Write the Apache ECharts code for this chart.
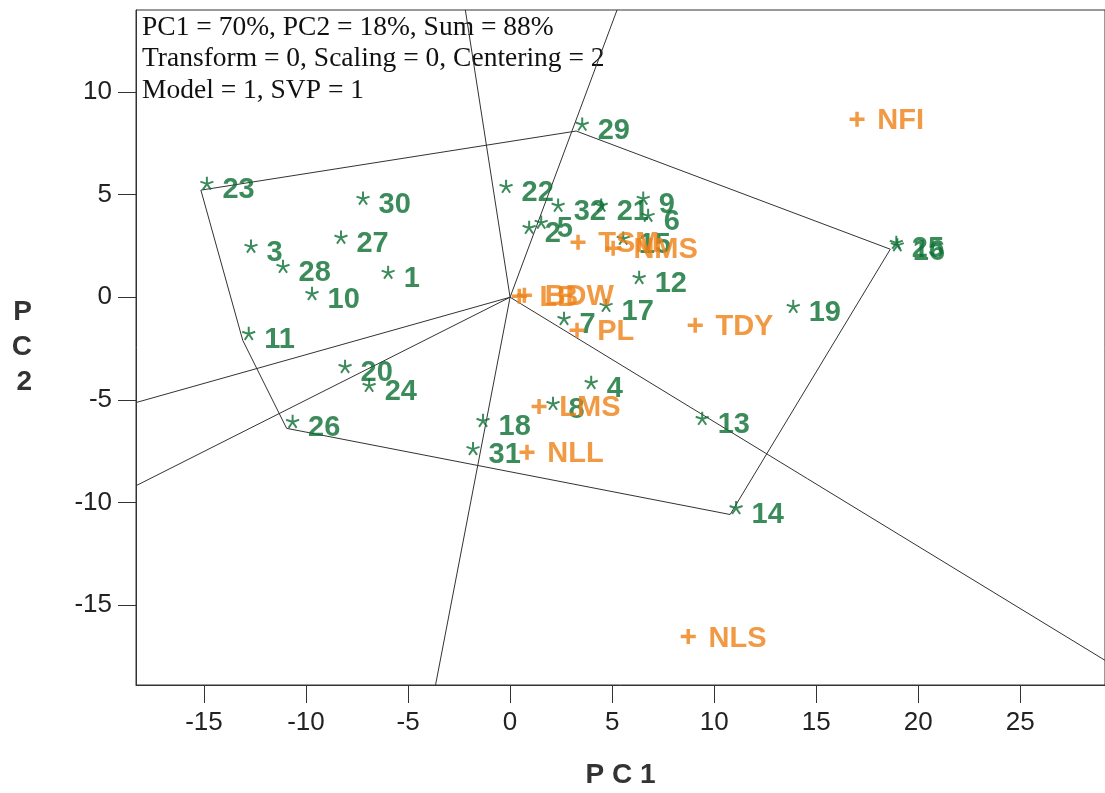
<!DOCTYPE html>
<html>
<head>
<meta charset="utf-8">
<script src="https://cdn.jsdelivr.net/npm/echarts@6/dist/echarts.min.js"></script>
<style>
  html, body { margin: 0; padding: 0; background: #fff; }
  #biplot { width: 1105px; height: 793px; }
</style>
</head>
<body>
<div id="biplot"></div>
<script>
// genotype scores (PC1, PC2)
var genoNames = ['23', '29', '25', '16', '14', '26', '11', '30', '3', '27', '28', '1', '10', '20', '24',
  '22', '32', '5', '2', '21', '9', '6', '15', '12', '17', '7', '19', '13', '4', '8', '18', '31'];
var genoPC1 = [-15.15, 3.24, 18.63, 18.68, 10.78, -10.95, -13.1, -7.5, -12.99, -8.58, -11.42, -6.27, -10.0, -8.38, -7.2,
  -0.49, 2.06, 1.23, 0.64, 4.17, 6.23, 6.47, 5.25, 6.03, 4.41, 2.35, 13.58, 9.12, 3.68, 1.81, -1.62, -2.11];
var genoPC2 = [5.22, 8.1, 2.34, 2.22, -10.59, -6.39, -2.1, 4.49, 2.15, 2.59, 1.17, 0.88, -0.15, -3.71, -4.63,
  5.07, 4.15, 3.32, 3.07, 4.15, 4.49, 3.66, 2.54, 0.63, -0.73, -1.37, -0.78, -6.24, -4.49, -5.51, -6.34, -7.71];

// environment scores
var envNames = ['NFI', 'TSM', 'NMS', 'LB', 'BDW', 'PL', 'TDY', 'LMS', 'NLL', 'NLS'];
var envPC1 = [17.0, 3.33, 5.05, 0.45, 0.7, 3.28, 9.07, 1.42, 0.83, 8.73];
var envPC2 = [8.68, 2.68, 2.39, 0.05, 0.1, -1.61, -1.37, -5.32, -7.56, -16.54];

// convex hull (which-won-where polygon)
var hullOrder = ['23', '29', '25', '14', '26', '11'];

var xTicks = [-15, -10, -5, 0, 5, 10, 15, 20, 25];
var yTicks = [-15, -10, -5, 0, 5, 10];
var xMin = -18.33, xMax = 29.15, yMin = -18.9, yMax = 14.0;

var green = '#0b6e32';
var orange = '#ee7f14';
var lineCol = '#333';

var genoData = genoNames.map(function (n, i) { return { name: n, value: [genoPC1[i], genoPC2[i]] }; });
var envData = envNames.map(function (n, i) { return { name: n, value: [envPC1[i], envPC2[i]] }; });

var hull = hullOrder.map(function (n) {
  var i = genoNames.indexOf(n);
  return [genoPC1[i], genoPC2[i]];
});
var hullLoop = hull.concat([hull[0]]);

// rays from origin, perpendicular to each polygon side, out to the frame
function rayEnd(nx, ny) {
  var t = Infinity;
  if (nx > 0) t = Math.min(t, xMax / nx);
  if (nx < 0) t = Math.min(t, xMin / nx);
  if (ny > 0) t = Math.min(t, yMax / ny);
  if (ny < 0) t = Math.min(t, yMin / ny);
  return [nx * t, ny * t];
}
var raySeries = [];
for (var k = 0; k < hull.length; k++) {
  var a = hull[k], b = hull[(k + 1) % hull.length];
  var nx = -(b[1] - a[1]), ny = b[0] - a[0];
  if (nx * a[0] + ny * a[1] < 0) { nx = -nx; ny = -ny; }
  raySeries.push({
    type: 'line', silent: true, symbol: 'none', animation: false,
    data: [[0, 0], rayEnd(nx, ny)],
    lineStyle: { color: lineCol, width: 1 }
  });
}

var asterisk = 'path://M0,0L0,-1M0,0L0.951,-0.309M0,0L0.588,0.809M0,0L-0.588,0.809M0,0L-0.951,-0.309';
var plus = 'path://M-1,0L1,0M0,-1L0,1';

var dom = document.getElementById('biplot');
var myChart = echarts.init(dom, null, { renderer: 'canvas' });

var option = {
  animation: false,
  backgroundColor: '#fff',
  grid: {
    left: 136, right: 0, top: 10, bottom: 108,
    outerBoundsMode: 'none', containLabel: false,
    show: true, borderColor: lineCol, borderWidth: 1
  },
  xAxis: {
    type: 'value', min: xMin, max: xMax,
    name: 'P C 1', nameLocation: 'middle', nameGap: 76,
    nameTextStyle: { fontFamily: 'Liberation Sans', fontWeight: 'bold', fontSize: 28, color: '#333' },
    axisLine: { show: true, onZero: false, lineStyle: { color: lineCol, width: 1 } },
    axisTick: { show: true, inside: false, length: 18, customValues: xTicks, lineStyle: { color: lineCol } },
    axisLabel: { customValues: xTicks, margin: 25, fontFamily: 'Liberation Sans', fontSize: 26, color: '#222' },
    splitLine: { show: false }
  },
  yAxis: {
    type: 'value', min: yMin, max: yMax,
    name: 'P\nC\n2', nameLocation: 'middle', nameGap: 104, nameRotate: 0,
    nameTextStyle: { fontFamily: 'Liberation Sans', fontWeight: 'bold', fontSize: 28, color: '#333', lineHeight: 35 },
    axisLine: { show: true, onZero: false, lineStyle: { color: lineCol, width: 1 } },
    axisTick: { show: true, inside: false, length: 18, customValues: yTicks, lineStyle: { color: lineCol } },
    axisLabel: { customValues: yTicks, margin: 24, fontFamily: 'Liberation Sans', fontSize: 26, color: '#222' },
    splitLine: { show: false }
  },
  graphic: [{
    type: 'text', left: 142, top: 12, silent: true,
    style: {
      text: 'PC1 = 70%, PC2 = 18%, Sum = 88%\nTransform = 0, Scaling = 0, Centering = 2\nModel = 1, SVP = 1',
      font: '27.5px "Liberation Serif"', lineHeight: 31.5, fill: '#111'
    }
  }],
  series: raySeries.concat([
    {
      type: 'line', silent: true, symbol: 'none', data: hullLoop,
      lineStyle: { color: lineCol, width: 1 }
    },
    {
      name: 'Genotypes', type: 'scatter', data: genoData,
      symbol: asterisk, symbolSize: [13, 13], symbolOffset: [6, -7],
      itemStyle: { color: 'transparent', borderColor: green, borderWidth: 2 },
      label: {
        show: true, position: 'right', distance: 8, offset: [0, 7],
        formatter: '{b}', fontFamily: 'Liberation Sans', fontWeight: 'bold', fontSize: 29, color: green
      },
      z: 5
    },
    {
      name: 'Environments', type: 'scatter', data: envData,
      symbol: plus, symbolSize: 15,
      itemStyle: { color: 'transparent', borderColor: orange, borderWidth: 3.5 },
      label: {
        show: true, position: 'right', distance: 11, offset: [0, 2],
        formatter: '{b}', fontFamily: 'Liberation Sans', fontWeight: 'bold', fontSize: 29, color: orange
      },
      z: 6
    }
  ])
};

if (option && typeof option === 'object') {
  myChart.setOption(option);
}
window.addEventListener('resize', myChart.resize);
</script>
</body>
</html>
